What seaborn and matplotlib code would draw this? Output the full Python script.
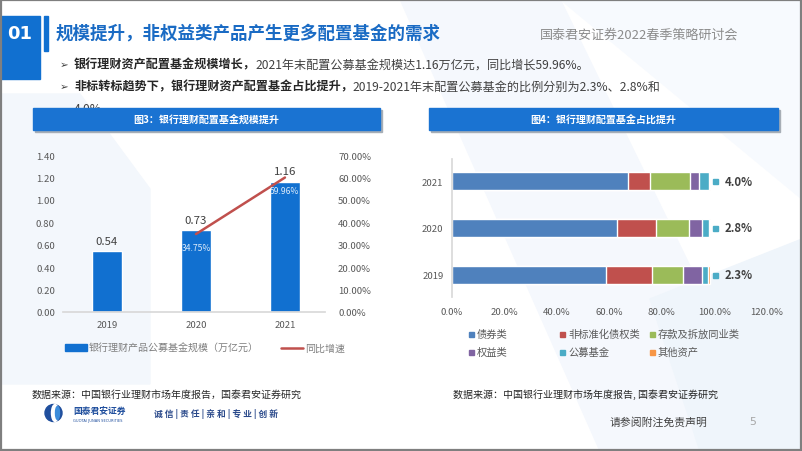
import numpy as np
import pandas as pd
import matplotlib.pyplot as plt
import matplotlib.transforms as mtransforms
import seaborn as sns
from matplotlib.patches import Rectangle, Polygon, Circle, Ellipse, Patch
from matplotlib.lines import Line2D
from matplotlib.ticker import FuncFormatter

sns.set_theme(style="white")
plt.rcParams["font.family"] = ["Noto Sans CJK SC", "DejaVu Sans"]

W, H = 802, 452

# ---------------------------------------------------------------
# data
# ---------------------------------------------------------------
years = ["2019", "2020", "2021"]
fund_scale = [0.54, 0.73, 1.16]            # 万亿元
growth_years = ["2020", "2021"]
growth_rate = [34.75, 59.96]               # %

alloc_years = ["2021", "2020", "2019"]
alloc_cats = ["债券类", "非标准化债权类", "存款及拆放同业类", "权益类", "公募基金", "其他资产"]
bond = [67.3, 63.1, 58.8]
nonstd = [8.3, 14.7, 17.4]
deposit = [15.2, 12.6, 12.1]
equity = [3.3, 4.8, 7.2]
pub_fund = [4.0, 2.8, 2.3]
other = [0.4, 0.3, 0.6]
alloc_colors = ["#4F81BD", "#C0504D", "#9BBB59", "#8064A2", "#4BACC6", "#F79646"]

BLUE = "#1170D0"
RED = "#C0504D"
GRAY = "#595959"
TICK = 6.9


def fa(l, t, r, b):
    """pixel box -> figure fraction rect"""
    return [l / W, 1 - b / H, (r - l) / W, (b - t) / H]


fig = plt.figure(figsize=(W / 100, H / 100), dpi=100)

# ---------------------------------------------------------------
# slide background, header, footer
# ---------------------------------------------------------------
bg = fig.add_axes([0, 0, 1, 1])
bg.set_xlim(0, W)
bg.set_ylim(H, 0)
bg.axis("off")

bg.add_patch(Polygon([(0, 95), (80, 95), (150, 190), (150, 385), (0, 385)], color="#F3F7FC", zorder=0))
bg.add_patch(Polygon([(400, 0), (560, 0), (780, 452), (600, 452)], color="#F5F8FD", zorder=0))
bg.add_patch(Polygon([(560, 0), (802, 0), (802, 200)], color="#F7FAFE", zorder=0))
bg.add_patch(Polygon([(650, 300), (802, 240), (802, 452), (700, 452)], color="#EFF5FB", zorder=0))
bg.add_patch(Rectangle((0.8, 0.8), W - 1.6, H - 1.6, fill=False, ec="#7F7F7F", lw=1.6, zorder=10))

# section tag and title
bg.add_patch(Rectangle((0, 17), 40, 63, color=BLUE, zorder=2))
bg.text(20, 34, "01", color="white", fontsize=13, fontweight="bold", ha="center", va="center",
        family="DejaVu Sans", zorder=3)
bg.add_patch(Rectangle((44, 17), 4, 35, color=BLUE, zorder=2))
bg.text(56, 34, "规模提升，非权益类产品产生更多配置基金的需求", color="#1A6BC4", fontsize=12.6,
        fontweight="bold", va="center", zorder=3)
bg.text(738, 35, "国泰君安证券2022春季策略研讨会", color="#8C8C8C", fontsize=9.4, ha="right", va="center")

# bullets with a bold lead-in
renderer = fig.canvas.get_renderer()
bullets = [
    (65, "银行理财资产配置基金规模增长，", "2021年末配置公募基金规模达1.16万亿元，同比增长59.96%。"),
    (87, "非标转标趋势下，银行理财资产配置基金占比提升，", "2019-2021年末配置公募基金的比例分别为2.3%、2.8%和"),
]
for y, lead, rest in bullets:
    bg.text(60, y, "➢", fontsize=7.5, color="#404040", va="center", family=["DejaVu Sans"])
    t = bg.text(74, y, lead, fontsize=8.7, fontweight="bold", color="#262626", va="center")
    bb = t.get_window_extent(renderer)
    bg.text(bb.x1 * W / fig.bbox.width, y, rest, fontsize=8.7, color="#404040", va="center")
bg.text(74, 109, "4.0%。", fontsize=8.7, color="#404040", va="center", zorder=1)

# chart banners
for (l, r), title in [((33, 380), "图3：银行理财配置基金规模提升"), ((429, 778), "图4：银行理财配置基金占比提升")]:
    bg.add_patch(Rectangle((l + 2, 111), r - l, 22, color="#A7AEB6", zorder=4))
    bg.add_patch(Rectangle((l, 109), r - l, 22, color="#1A73D2", zorder=5))
    bg.text((l + r) / 2, 120, title, color="white", fontsize=7.2, fontweight="bold", ha="center",
            va="center", zorder=6)

# sources and footer
bg.text(32, 395, "数据来源：中国银行业理财市场年度报告，国泰君安证券研究", fontsize=7.2, color="#262626", va="center")
bg.text(453, 395, "数据来源：中国银行业理财市场年度报告, 国泰君安证券研究", fontsize=7.2, color="#262626", va="center")
bg.add_patch(Circle((53.5, 414), 8.5, color="#1F4E9D", zorder=2))
bg.add_patch(Ellipse((55, 414), 7, 17, color="white", zorder=3))
bg.add_patch(Ellipse((57.5, 414), 4, 13, color="#3C8DDB", zorder=4))
bg.text(73, 412, "国泰君安证券", fontsize=6.3, fontweight="bold", color="#1F4E9D", va="center")
bg.text(73, 421.5, "GUOTAI JUNAN SECURITIES", fontsize=2.6, color="#1F4E9D", va="center", family="DejaVu Sans")
bg.text(154, 414, "诚 信 | 责 任 | 亲 和 | 专 业 | 创 新", fontsize=6.3, fontweight="bold",
        color="#2B4A8B", va="center")
bg.text(610, 422, "请参阅附注免责声明", fontsize=7.8, color="#404040", va="center")
bg.text(749, 422, "5", fontsize=7.8, color="#A6A6A6", va="center", family="DejaVu Sans")

# ---------------------------------------------------------------
# 图3: scale bars + yoy line
# ---------------------------------------------------------------
ax1 = fig.add_axes(fa(63, 156, 325, 313))
ax1.patch.set_alpha(0)
sns.barplot(x=years, y=fund_scale, color=BLUE, saturation=1, width=0.33, ax=ax1)
for i, v in enumerate(fund_scale):
    ax1.annotate(f"{v:.2f}", (i, v), xytext=(0, 7.5), textcoords="offset points",
                 ha="center", va="center", fontsize=8.2, color="#404040")
ax1.set_ylim(0, 1.4)
ax1.set_yticks(np.arange(0, 1.41, 0.2))
ax1.yaxis.set_major_formatter(FuncFormatter(lambda v, _: f"{v:.2f}"))
ax1.set_xlabel("")
ax1.set_ylabel("")

ax2 = ax1.twinx()
gx = [years.index(y) for y in growth_years]
sns.lineplot(x=gx, y=growth_rate, color=RED, lw=1.8, ax=ax2)
for x, v in zip(gx, growth_rate):
    ax2.annotate(f"{v:.2f}%", (x, v), xytext=(0, -9.5), textcoords="offset points",
                 ha="center", va="center", fontsize=6.2, color="#DCEBFA")
ax2.set_ylim(0, 70)
ax2.set_yticks(np.arange(0, 71, 10))
ax2.yaxis.set_major_formatter(FuncFormatter(lambda v, _: f"{v:.2f}%"))
ax2.set_ylabel("")
ax1.set_xlim(-0.494, 2.45)

for a in (ax1, ax2):
    for s in a.spines.values():
        s.set_visible(False)
ax1.spines["bottom"].set_visible(True)
ax1.spines["bottom"].set_color("#D9D9D9")
ax1.tick_params(axis="y", length=0, pad=5.8, labelsize=TICK, labelcolor=GRAY)
ax1.tick_params(axis="x", length=0, pad=6, labelsize=TICK, labelcolor=GRAY)
ax2.tick_params(axis="y", length=0, pad=9.4, labelsize=TICK, labelcolor=GRAY)

handles = [Patch(color=BLUE), Line2D([], [], color=RED, lw=1.8)]
ax1.legend(handles, ["银行理财产品公募基金规模（万亿元）", "同比增速"], loc="center",
           bbox_to_anchor=(205 / W, 1 - 349 / H), bbox_transform=fig.transFigure, ncol=2,
           frameon=False, fontsize=7.2, handlelength=2.2, handletextpad=0.25, columnspacing=2.2,
           labelcolor="#7F7F7F")

# ---------------------------------------------------------------
# 图4: allocation mix, stacked horizontal bars
# ---------------------------------------------------------------
ax3 = fig.add_axes(fa(451.7, 160, 766.7, 298))
ax3.patch.set_alpha(0)
df = pd.DataFrame(dict(zip(alloc_cats, [bond, nonstd, deposit, equity, pub_fund, other])), index=alloc_years)
cum = df.cumsum(axis=1)
for cat, col in reversed(list(zip(alloc_cats, alloc_colors))):
    sns.barplot(x=cum[cat].values, y=alloc_years, order=alloc_years, orient="h", color=col,
                saturation=1, width=0.39, ax=ax3)

shift = mtransforms.ScaledTranslation(5 / 100, 0, fig.dpi_scale_trans)
for i, yr in enumerate(alloc_years):
    tot = cum.loc[yr].iloc[-1]
    ax3.plot([tot], [i], marker="s", ms=3.6, color=alloc_colors[4], transform=ax3.transData + shift)
    ax3.annotate(f"{df.loc[yr, '公募基金']:.1f}%", (tot, i), xytext=(10.5, 0), textcoords="offset points",
                 ha="left", va="center", fontsize=8.2, fontweight="bold", color="#404040")

ax3.set_xlim(0, 120)
ax3.set_xticks(np.arange(0, 121, 20))
ax3.xaxis.set_major_formatter(FuncFormatter(lambda v, _: f"{v:.1f}%"))
ax3.set_ylim(2.47, -0.47)
ax3.set_xlabel("")
ax3.set_ylabel("")
for s in ax3.spines.values():
    s.set_visible(False)
ax3.spines["left"].set_visible(True)
ax3.spines["left"].set_color("#D9D9D9")
ax3.tick_params(axis="x", length=0, pad=7, labelsize=TICK, labelcolor=GRAY)
ax3.tick_params(axis="y", length=0, pad=6, labelsize=TICK, labelcolor=GRAY)

# legend laid out like the original (3 columns, 2 rows)
leg_x = [471, 562, 652]
leg_y = [335, 353]
for k, (cat, col) in enumerate(zip(alloc_cats, alloc_colors)):
    x, y = leg_x[k % 3], leg_y[k // 3]
    bg.add_patch(Rectangle((x - 2.5, y - 2.5), 5, 5, color=col, zorder=3))
    bg.text(x + 6, y, cat, fontsize=7.4, color=GRAY, va="center", zorder=3)

fig.savefig("out.png", dpi=100)
